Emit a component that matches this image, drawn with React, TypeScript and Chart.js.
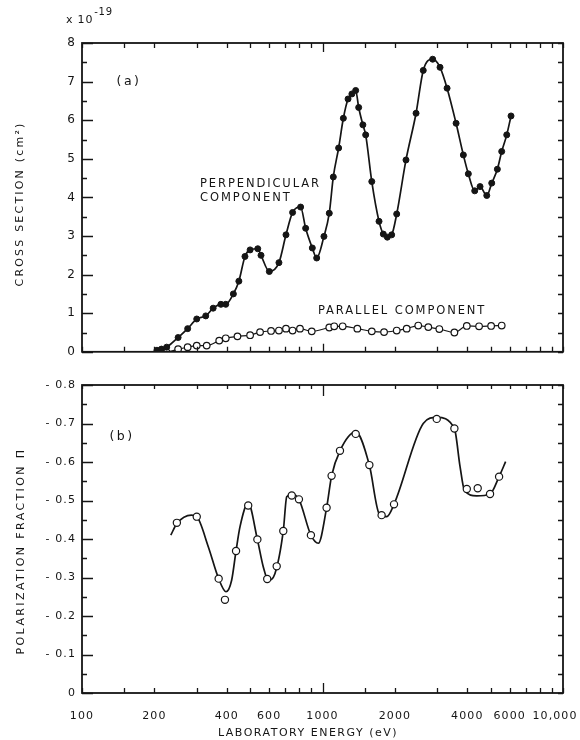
import React, { useEffect, useRef } from 'react';
import { Chart, registerables } from 'chart.js';

Chart.register(...registerables);

const FONT = '"DejaVu Sans", sans-serif';
const INK = '#151515';

// ---- Panel (a): cross section (x 10^-19 cm^2) vs laboratory energy (eV)
const perpEnergy = [205, 214, 225, 251, 275, 300, 327, 351, 378, 396, 426, 449, 476, 500, 538, 555, 601, 659, 705, 751, 811, 851, 907, 946, 1014, 1067, 1109, 1167, 1221, 1277, 1325, 1374, 1414, 1472, 1512, 1603, 1718, 1790, 1860, 1939, 2035, 2224, 2449, 2624, 2871, 3081, 3296, 3593, 3852, 4040, 4295, 4519, 4820, 5055, 5334, 5561, 5836, 6080];
const perpSection = [0.04, 0.07, 0.12, 0.37, 0.60, 0.85, 0.93, 1.13, 1.23, 1.23, 1.50, 1.83, 2.47, 2.64, 2.67, 2.50, 2.08, 2.31, 3.03, 3.61, 3.75, 3.20, 2.69, 2.43, 2.99, 3.59, 4.53, 5.28, 6.05, 6.55, 6.68, 6.77, 6.33, 5.88, 5.62, 4.41, 3.38, 3.05, 2.97, 3.03, 3.57, 4.97, 6.18, 7.29, 7.58, 7.37, 6.83, 5.92, 5.10, 4.61, 4.17, 4.28, 4.05, 4.37, 4.73, 5.19, 5.62, 6.11];

const paraEnergy = [225, 251, 275, 300, 330, 372, 396, 443, 500, 550, 611, 659, 705, 751, 806, 902, 1067, 1119, 1213, 1396, 1603, 1803, 2035, 2239, 2501, 2754, 3060, 3535, 3981, 4477, 5025, 5561];
const paraSection = [-0.02, 0.07, 0.12, 0.16, 0.16, 0.29, 0.35, 0.40, 0.43, 0.51, 0.54, 0.55, 0.60, 0.55, 0.60, 0.53, 0.63, 0.66, 0.66, 0.60, 0.53, 0.51, 0.55, 0.60, 0.68, 0.64, 0.59, 0.50, 0.67, 0.66, 0.67, 0.68];

// ---- Panel (b): polarization fraction
const polEnergy = [248, 300, 370, 393, 437, 491, 536, 589, 645, 687, 745, 798, 895, 1040, 1091, 1182, 1374, 1566, 1761, 1983, 2985, 3535, 3981, 4419, 4973, 5423];
const polFraction = [-0.442, -0.458, -0.297, -0.242, -0.369, -0.487, -0.399, -0.296, -0.329, -0.421, -0.513, -0.503, -0.410, -0.481, -0.564, -0.629, -0.673, -0.592, -0.462, -0.490, -0.712, -0.687, -0.530, -0.532, -0.517, -0.562];

const polCurveEnergy = [234, 248, 285, 300, 335, 370, 397, 419, 437, 454, 491, 536, 567, 595, 634, 687, 710, 745, 798, 895, 961, 1040, 1091, 1182, 1374, 1566, 1720, 1849, 1983, 2624, 2985, 3535, 3732, 3890, 4375, 4973, 5423, 5773];
const polCurveFraction = [-0.41, -0.44, -0.462, -0.458, -0.38, -0.297, -0.263, -0.293, -0.369, -0.432, -0.493, -0.399, -0.328, -0.293, -0.31, -0.421, -0.510, -0.516, -0.503, -0.410, -0.389, -0.481, -0.564, -0.629, -0.678, -0.592, -0.466, -0.458, -0.49, -0.70, -0.716, -0.687, -0.588, -0.527, -0.512, -0.517, -0.562, -0.601];

// ---- Axes
const xTickLabels = [100, 200, 400, 600, 1000, 2000, 4000, 6000, 10000];
const xTickMarks = [100, 150, 200, 300, 400, 500, 600, 700, 800, 900, 1000, 1500, 2000, 3000, 4000, 5000, 6000, 7000, 8000, 9000, 10000];
const yATickLabels = [0, 1, 2, 3, 4, 5, 6, 7, 8];
const yAMinorTicks = [0.5, 1.5, 2.5, 3.5, 4.5, 5.5, 6.5, 7.5];
const yBTickLabels = [0, -0.1, -0.2, -0.3, -0.4, -0.5, -0.6, -0.7, -0.8];
const yBMinorTicks = [-0.05, -0.15, -0.25, -0.35, -0.45, -0.55, -0.65, -0.75];

const pts = (xs: number[], ys: number[]) => xs.map((x, i) => ({ x, y: ys[i] }));

function drawText(ctx: CanvasRenderingContext2D, s: string, x: number, y: number, size: number, spacing: number, align: CanvasTextAlign = 'left', rot = 0) {
  ctx.save();
  ctx.font = `${size}px ${FONT}`;
  (ctx as any).letterSpacing = `${spacing}px`;
  ctx.fillStyle = INK;
  ctx.textAlign = align;
  ctx.textBaseline = 'middle';
  ctx.translate(x, y);
  ctx.rotate(rot);
  ctx.fillText(s, 0, 0);
  ctx.restore();
}

const framePlugin = {
  id: 'frame',
  beforeDraw(chart: any, _a: any, o: any) {
    (chart.ctx as any).letterSpacing = '1.1px';
    const xs = chart.scales.x;
    if (o.shiftLast && xs.options.ticks.display) {
      const items = xs.getLabelItems();
      if (items && items.length) items[items.length - 1].options.translation[0] -= o.shiftLast;
    }
  },
  afterDatasetsDraw(chart: any, _a: any, o: any) {
    const { ctx, chartArea } = chart;
    const { left, right, top, bottom } = chartArea;
    const xs = chart.scales.x;
    const ys = chart.scales.y;
    ctx.save();
    (ctx as any).letterSpacing = '0px';
    ctx.strokeStyle = INK;
    ctx.lineWidth = 1.3;
    ctx.beginPath();
    for (const v of xTickMarks) {
      const px = Math.round(xs.getPixelForValue(v)) + 0.5;
      const big = v === 1000;
      const lb = big ? o.xLongBottom : o.xBottom;
      const lt = big ? o.xLongTop : o.xTop;
      ctx.moveTo(px, bottom); ctx.lineTo(px, bottom - lb);
      ctx.moveTo(px, top); ctx.lineTo(px, top + lt);
    }
    for (const v of o.yMajor) {
      const py = Math.round(ys.getPixelForValue(v)) + 0.5;
      ctx.moveTo(left, py); ctx.lineTo(left + o.yMajorLen, py);
      ctx.moveTo(right, py); ctx.lineTo(right - o.yRightLen, py);
    }
    for (const v of o.yMinor) {
      const py = Math.round(ys.getPixelForValue(v)) + 0.5;
      ctx.moveTo(left, py); ctx.lineTo(left + o.yMinorLen, py);
      ctx.moveTo(right, py); ctx.lineTo(right - o.yRightLen, py);
    }
    ctx.stroke();
    ctx.lineWidth = 1.8;
    ctx.strokeRect(left, top, right - left, bottom - top);
    ctx.restore();
  },
  afterDraw(chart: any, _a: any, o: any) {
    if (o.texts) o.texts(chart.ctx, chart.chartArea);
  },
};

const xScaleBase = (showLabels: boolean, height: number) => ({
  type: 'logarithmic' as const,
  min: 100,
  max: 10000,
  grid: { display: false, drawTicks: false },
  border: { display: false },
  afterBuildTicks: (s: any) => { s.ticks = xTickLabels.map((v) => ({ value: v })); },
  afterFit: (s: any) => { s.height = height; s.paddingLeft = 0; s.paddingRight = 0; },
  ticks: {
    display: showLabels,
    autoSkip: false,
    maxRotation: 0,
    padding: 17,
    color: INK,
    font: { family: FONT, size: 11 },
    callback: (v: any) => (Number(v) >= 10000 ? Number(v).toLocaleString('en-US') : String(Math.round(Number(v)))),
  },
});

export default function App() {
  const refA = useRef<HTMLCanvasElement>(null);
  const refB = useRef<HTMLCanvasElement>(null);

  useEffect(() => {
    const chartA = new Chart(refA.current as HTMLCanvasElement, {
      type: 'scatter',
      plugins: [framePlugin],
      data: {
        datasets: [
          {
            data: pts(perpEnergy, perpSection),
            showLine: true,
            cubicInterpolationMode: 'monotone',
            borderColor: INK,
            borderWidth: 1.7,
            pointRadius: 3,
            pointBorderWidth: 1,
            pointBackgroundColor: INK,
            pointBorderColor: INK,
          },
          {
            data: pts(paraEnergy, paraSection),
            showLine: true,
            cubicInterpolationMode: 'monotone',
            borderColor: INK,
            borderWidth: 1.2,
            pointRadius: 3.3,
            pointBorderWidth: 1.2,
            pointBackgroundColor: '#ffffff',
            pointBorderColor: INK,
          },
        ],
      } as any,
      options: {
        responsive: false,
        animation: false,
        devicePixelRatio: 1,
        layout: { padding: { left: 0, right: 17, top: 43, bottom: 13 } },
        plugins: {
          legend: { display: false },
          tooltip: { enabled: false },
          frame: {
            xBottom: 5, xLongBottom: 8, xTop: 5, xLongTop: 9,
            yMajor: yATickLabels, yMinor: yAMinorTicks,
            yMajorLen: 11, yMinorLen: 5, yRightLen: 5,
            texts: (ctx: CanvasRenderingContext2D) => {
              ctx.save();
              ctx.font = `11px ${FONT}`;
              (ctx as any).letterSpacing = '0.8px';
              ctx.fillStyle = INK;
              ctx.textBaseline = 'alphabetic';
              ctx.fillText('x 10', 66, 23);
              const w = ctx.measureText('x 10').width;
              ctx.font = `10px ${FONT}`;
              ctx.fillText('-19', 66 + w + 1, 15);
              ctx.restore();
              drawText(ctx, '(a)', 129, 82, 12.5, 2.5, 'center');
              drawText(ctx, 'PERPENDICULAR', 200, 184, 11.5, 1.9);
              drawText(ctx, 'COMPONENT', 200, 198, 11.5, 1.9);
              drawText(ctx, 'PARALLEL COMPONENT', 318, 311, 11.5, 1.9);
              drawText(ctx, 'CROSS SECTION (cm²)', 20, 204, 11, 2.2, 'center', -Math.PI / 2);
            },
          },
        } as any,
        scales: {
          x: xScaleBase(false, 0) as any,
          y: {
            min: 0,
            max: 8,
            grid: { display: false, drawTicks: false },
            border: { display: false },
            afterBuildTicks: (s: any) => { s.ticks = yATickLabels.map((v) => ({ value: v })); },
            afterFit: (s: any) => { s.width = 82; },
            ticks: { padding: 6, color: INK, font: { family: FONT, size: 12 } },
          },
        },
      },
    });

    const chartB = new Chart(refB.current as HTMLCanvasElement, {
      type: 'scatter',
      plugins: [framePlugin],
      data: {
        datasets: [
          {
            data: pts(polEnergy, polFraction),
            order: 0,
            showLine: false,
            pointRadius: 3.6,
            pointBorderWidth: 1.2,
            pointBackgroundColor: '#ffffff',
            pointBorderColor: INK,
          },
          {
            data: pts(polCurveEnergy, polCurveFraction),
            order: 1,
            showLine: true,
            cubicInterpolationMode: 'monotone',
            borderColor: INK,
            borderWidth: 1.7,
            pointRadius: 0,
          },
        ],
      } as any,
      options: {
        responsive: false,
        animation: false,
        devicePixelRatio: 1,
        layout: { padding: { left: 0, right: 17, top: 20, bottom: 0 } },
        plugins: {
          legend: { display: false },
          tooltip: { enabled: false },
          frame: {
            shiftLast: 8,
            xBottom: 5, xLongBottom: 10, xTop: 4, xLongTop: 11,
            yMajor: yBTickLabels, yMinor: yBMinorTicks,
            yMajorLen: 11, yMinorLen: 5, yRightLen: 5,
            texts: (ctx: CanvasRenderingContext2D) => {
              drawText(ctx, '(b)', 122, 72, 12.5, 2.5, 'center');
              drawText(ctx, 'POLARIZATION FRACTION Π', 21, 186, 11, 2.4, 'center', -Math.PI / 2);
              drawText(ctx, 'LABORATORY ENERGY (eV)', 308, 368, 11, 1.5, 'center');
            },
          },
        } as any,
        scales: {
          x: xScaleBase(true, 47) as any,
          y: {
            min: -0.8,
            max: 0,
            reverse: true,
            grid: { display: false, drawTicks: false },
            border: { display: false },
            afterBuildTicks: (s: any) => { s.ticks = yBTickLabels.map((v) => ({ value: v })); },
            afterFit: (s: any) => { s.width = 82; },
            ticks: {
              padding: 6,
              color: INK,
              font: { family: FONT, size: 11 },
              callback: (v: any) => (Math.abs(Number(v)) < 1e-9 ? '0' : '- ' + Math.abs(Number(v)).toFixed(1)),
            },
          },
        },
      },
    });

    return () => {
      chartA.destroy();
      chartB.destroy();
    };
  }, []);

  return (
    <div style={{ position: 'absolute', left: 0, top: 0, width: 580, height: 740, background: '#fff', overflow: 'hidden' }}>
      <canvas ref={refA} width={580} height={365} style={{ position: 'absolute', left: 0, top: 0, width: 580, height: 365 }} />
      <canvas ref={refB} width={580} height={375} style={{ position: 'absolute', left: 0, top: 365, width: 580, height: 375 }} />
    </div>
  );
}
